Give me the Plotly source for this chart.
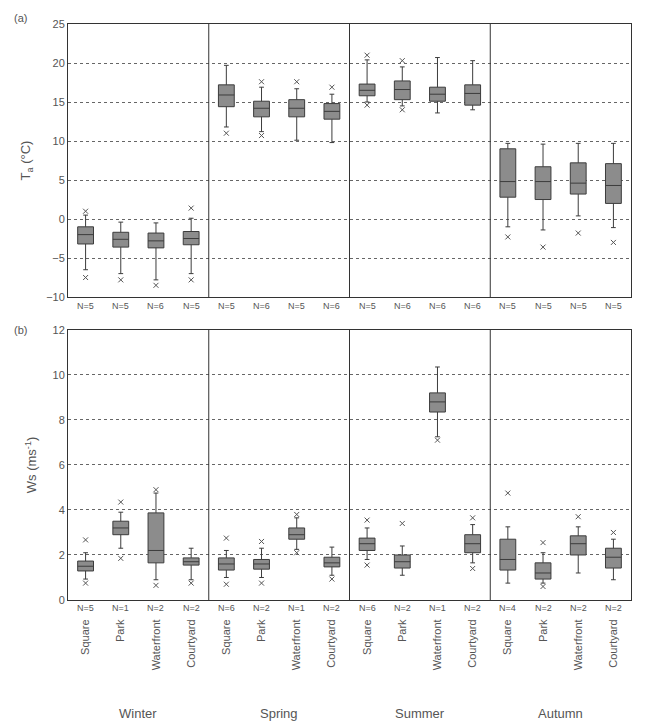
import plotly.graph_objects as go
from plotly.subplots import make_subplots

seasons = ["Winter", "Spring", "Summer", "Autumn"]
sites = ["Square", "Park", "Waterfront", "Courtyard"]

# Panel (a): air temperature (°C), 16 boxes in season order
ta_lo  = [-6.5, -7.0, -7.8, -7.0, 11.8, 11.2, 10.1, 9.8, 15.0, 14.5, 13.6, 14.0, -1.0, -1.4, 0.4, -1.1]
ta_q1  = [-3.2, -3.6, -3.7, -3.3, 14.4, 13.1, 13.1, 12.8, 15.8, 15.3, 15.1, 14.6, 2.8, 2.5, 3.2, 2.0]
ta_med = [-2.0, -2.6, -2.8, -2.5, 15.9, 14.2, 14.2, 13.8, 16.5, 16.6, 16.0, 16.1, 4.8, 4.8, 4.6, 4.3]
ta_q3  = [-1.0, -1.7, -1.8, -1.6, 17.2, 15.1, 15.3, 14.8, 17.3, 17.7, 16.9, 17.2, 9.0, 6.7, 7.2, 7.1]
ta_hi  = [0.5, -0.4, -0.5, 0.1, 19.7, 16.9, 16.7, 16.0, 20.4, 19.5, 20.7, 20.3, 9.7, 9.6, 9.7, 9.7]
ta_out = [[-7.5, 1.0], [-7.8], [-8.5], [-7.8, 1.4],
          [11.0], [17.6, 10.7], [17.6], [16.9],
          [21.0, 14.6], [20.3, 14.0], [], [],
          [-2.3], [-3.6], [-1.8], [-3.0]]
ta_n = [5, 5, 6, 5, 5, 6, 5, 6, 5, 6, 6, 6, 5, 5, 5, 5]

# Panel (b): wind speed (m/s)
ws_lo  = [0.93, 2.3, 0.9, 0.9, 1.0, 1.0, 2.25, 1.1, 1.8, 1.1, 7.25, 1.65, 0.75, 0.75, 1.2, 0.9]
ws_q1  = [1.29, 2.9, 1.65, 1.55, 1.33, 1.37, 2.7, 1.47, 2.2, 1.42, 8.35, 2.1, 1.33, 0.93, 2.0, 1.42]
ws_med = [1.5, 3.2, 2.2, 1.7, 1.6, 1.6, 2.9, 1.65, 2.5, 1.7, 8.8, 2.5, 1.8, 1.2, 2.5, 1.9]
ws_q3  = [1.73, 3.5, 3.87, 1.87, 1.87, 1.8, 3.2, 1.9, 2.75, 2.0, 9.2, 2.9, 2.7, 1.65, 2.85, 2.3]
ws_hi  = [2.1, 3.9, 4.75, 2.3, 2.2, 2.3, 3.65, 2.35, 3.2, 2.4, 10.35, 3.35, 3.25, 2.1, 3.25, 2.7]
ws_out = [[2.67, 0.75], [4.35, 1.85], [4.9, 0.65], [0.75],
          [2.75, 0.7], [2.6, 0.75], [3.8, 2.1], [0.93],
          [3.55, 1.55], [3.4], [7.1], [3.65, 1.4],
          [4.75], [2.55, 0.6], [3.7], [3.0]]
ws_n = [5, 1, 2, 2, 6, 2, 1, 2, 6, 2, 1, 2, 4, 2, 2, 2]

tick_labels = [s for _ in seasons for s in sites]
xpos = list(range(len(tick_labels)))

FONT = "Liberation Sans, Arial, sans-serif"
TXT = "#555555"
BOX_FILL = "#8c8c8c"
BOX_LINE = "#3c3c3c"

fig = make_subplots(rows=2, cols=1, shared_xaxes=False, vertical_spacing=0.0)

def add_panel(row, lo, q1, med, q3, hi, out):
    for i in xpos:
        fig.add_trace(go.Box(
            x=[i], lowerfence=[lo[i]], q1=[q1[i]], median=[med[i]], q3=[q3[i]],
            upperfence=[hi[i]], fillcolor=BOX_FILL, line=dict(color=BOX_LINE, width=1),
            width=0.45, whiskerwidth=0.3, boxpoints=False, showlegend=False,
            hoverinfo="skip"), row=row, col=1)
    ox, oy = [], []
    for i in xpos:
        for v in out[i]:
            ox.append(i)
            oy.append(v)
    fig.add_trace(go.Scatter(x=ox, y=oy, mode="markers",
                             marker=dict(symbol="x-thin", size=5, line=dict(color="#555", width=1)),
                             showlegend=False, hoverinfo="skip"), row=row, col=1)

add_panel(1, ta_lo, ta_q1, ta_med, ta_q3, ta_hi, ta_out)
add_panel(2, ws_lo, ws_q1, ws_med, ws_q3, ws_hi, ws_out)

axis_common = dict(showline=True, linecolor="#333", linewidth=1, mirror=True, automargin=False,
                   tickfont=dict(family=FONT, size=11, color=TXT), ticks="")

fig.update_xaxes(range=[-0.5, 15.5], showgrid=False, zeroline=False, **axis_common)
fig.update_xaxes(showticklabels=False, row=1, col=1)
fig.update_xaxes(tickmode="array", tickvals=xpos, ticktext=tick_labels, tickangle=-90,
                 ticklabelstandoff=14, row=2, col=1)

fig.update_yaxes(showgrid=True, gridcolor="#666", griddash="dot", gridwidth=1,
                 zeroline=False, **axis_common)
fig.update_yaxes(range=[-10, 25], dtick=5, row=1, col=1,
                 title=dict(text="T<sub>a</sub> (°C)", font=dict(family=FONT, size=13, color=TXT), standoff=12))
fig.update_yaxes(range=[0, 12], dtick=2, row=2, col=1,
                 title=dict(text="Ws (ms<sup>-1</sup>)", font=dict(family=FONT, size=13, color=TXT), standoff=12))

# domains
fig.update_layout(yaxis=dict(domain=[0.526, 1.0]), yaxis2=dict(domain=[0.0, 0.469]))

# season dividers
for b in [3.5, 7.5, 11.5]:
    for yref in ["y domain", "y2 domain"]:
        fig.add_shape(type="line", x0=b, x1=b, y0=0, y1=1,
                      xref="x" if yref == "y domain" else "x2", yref=yref,
                      line=dict(color="#333", width=1))

# N labels
for i in xpos:
    fig.add_annotation(x=i, y=0, xref="x", yref="y domain", yanchor="top", yshift=-2,
                       text=f"N={ta_n[i]}", showarrow=False,
                       font=dict(family=FONT, size=9, color=TXT))
    fig.add_annotation(x=i, y=0, xref="x2", yref="y2 domain", yanchor="top", yshift=-1,
                       text=f"N={ws_n[i]}", showarrow=False,
                       font=dict(family=FONT, size=9, color=TXT))

# season labels
for k, s in enumerate(seasons):
    fig.add_annotation(x=4 * k + 1.5, y=-0.197, xref="x2", yref="paper", yanchor="middle",
                       text=s, showarrow=False, font=dict(family=FONT, size=13, color=TXT))

# panel labels
fig.add_annotation(x=-0.1, y=1.01, xref="paper", yref="paper", xanchor="left", yanchor="middle",
                   text="(a)", showarrow=False, font=dict(family=FONT, size=11, color=TXT))
fig.add_annotation(x=-0.1, y=0.469, xref="paper", yref="paper", xanchor="left", yanchor="middle",
                   text="(b)", showarrow=False, font=dict(family=FONT, size=11, color=TXT))

# page body adds an 8px offset, so the figure is sized to fit the remaining window
fig.update_layout(width=638, height=713, margin=dict(l=60, r=15, t=16, b=121),
                  plot_bgcolor="white", paper_bgcolor="white",
                  font=dict(family=FONT, color=TXT))

fig.write_html("out.html")
